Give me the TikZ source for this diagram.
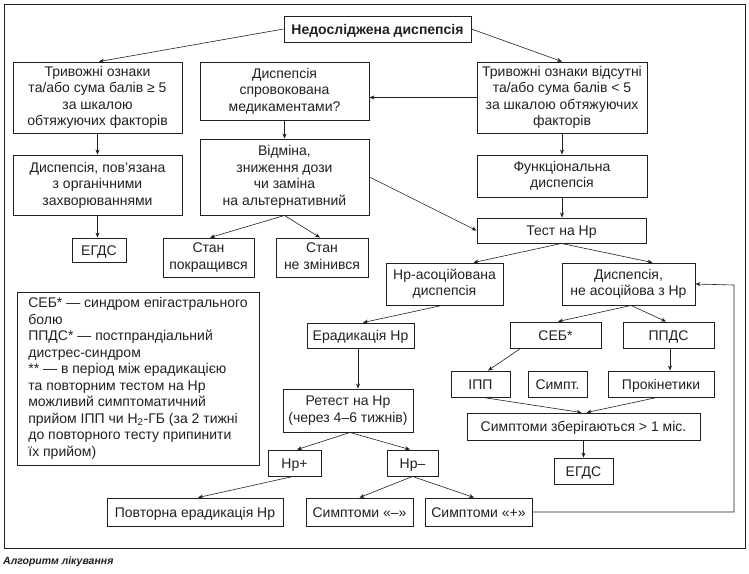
\documentclass[tikz,border=0pt]{standalone}
\usepackage{fontspec}
\setmainfont{Liberation Sans}
\usetikzlibrary{arrows.meta}
\definecolor{ink}{HTML}{231F20}
\begin{document}
\begin{tikzpicture}[x=1pt,y=-1pt,
  box/.style={draw=ink,line width=0.9pt,align=center,inner sep=0pt,text=ink,
    font=\fontsize{14}{16.5}\selectfont,
    execute at begin node={\rule{0pt}{13pt}},
    execute at end node={\rule[-3pt]{0pt}{3pt}}},
  arr/.style={draw=ink,line width=0.6pt,-{Stealth[length=5pt,width=4pt]}}]
\useasboundingbox (0,0) rectangle (749,573);
\draw[ink,line width=0.9pt] (4,4) rectangle (745,548);

\node[box,minimum width=187,minimum height=26,font=\fontsize{14}{16.5}\selectfont\bfseries] (n1) at (377.5,29) {Недосліджена диспепсія};
\node[box,minimum width=169,minimum height=71] (n2) at (97.5,97.5) {Тривожні ознаки\\та/або сума балів ≥ 5\\за шкалою\\обтяжуючих факторів};
\node[box,minimum width=169,minimum height=58] (n3) at (284.5,91) {Диспепсія\\спровокована\\медикаментами?};
\node[box,minimum width=170,minimum height=71] (n4) at (562,97.5) {Тривожні ознаки відсутні\\та/або сума балів < 5\\за шкалою обтяжуючих\\факторів};
\node[box,minimum width=169,minimum height=60] (n5) at (97.5,185) {Диспепсія, пов’язана\\з органічними\\захворюваннями};
\node[box,minimum width=169,minimum height=76] (n6) at (284.5,177) {Відміна,\\зниження дози\\чи заміна\\на альтернативний};
\node[box,minimum width=170,minimum height=42] (n7) at (562,176) {Функціональна\\диспепсія};
\node[box,minimum width=54,minimum height=24] (n8) at (99,250) {ЕГДС};
\node[box,minimum width=91,minimum height=39] (n9) at (208.5,257.5) {Стан\\покращився};
\node[box,minimum width=92,minimum height=39] (n10) at (322,257.5) {Стан\\не змінився};
\node[box,minimum width=242,minimum height=173,align=left] (n11) at (138,378.5) {СЕБ* — синдром епігастрального\\болю\\ППДС* — постпрандіальний\\дистрес-синдром\\** — в період між ерадикацією\\та повторним тестом на Hp\\можливий симптоматичний\\прийом ІПП чи H\textsubscript{2}-ГБ (за 2 тижні\\до повторного тесту припинити\\їх прийом)};
\node[box,minimum width=169,minimum height=25] (n12) at (561.5,230.5) {Тест на Hp};
\node[box,minimum width=117,minimum height=42] (n13) at (444.5,284) {Hp-асоційована\\диспепсія};
\node[box,minimum width=133,minimum height=42] (n14) at (628.5,284) {Диспепсія,\\не асоційова з Hp};
\node[box,minimum width=107,minimum height=25] (n15) at (360.5,335.5) {Ерадикація Hp};
\node[box,minimum width=91,minimum height=26] (n16) at (555.5,335) {СЕБ*};
\node[box,minimum width=91,minimum height=26] (n17) at (668.5,335) {ППДС};
\node[box,minimum width=59,minimum height=26] (n18) at (480.5,384) {ІПП};
\node[box,minimum width=59,minimum height=26] (n19) at (557.5,384) {Симпт.};
\node[box,minimum width=106,minimum height=26] (n20) at (661,384) {Прокінетики};
\node[box,minimum width=130,minimum height=43] (n21) at (348,410.5) {Ретест на Hp\\(через 4–6 тижнів)};
\node[box,minimum width=233,minimum height=27] (n22) at (583.5,426.5) {Симптоми зберігаються > 1 міс.};
\node[box,minimum width=59,minimum height=26] (n23) at (583.5,471) {ЕГДС};
\node[box,minimum width=53,minimum height=26] (n24) at (294.5,463) {Hp+};
\node[box,minimum width=51,minimum height=26] (n25) at (412.5,463) {Hp–};
\node[box,minimum width=176,minimum height=28] (n26) at (195,512) {Повторна ерадикація Hp};
\node[box,minimum width=107,minimum height=28] (n27) at (359.5,512) {Симптоми «–»};
\node[box,minimum width=107,minimum height=28] (n28) at (478.5,512) {Симптоми «+»};

\node[anchor=west,inner sep=0pt,text=ink,font=\fontsize{10.5}{12}\selectfont\bfseries\itshape] (cap) at (3,562) {Алгоритм лікування};

\draw[arr] (n1.west) -- ([xshift=1.5]n2.north);
\draw[arr] (n1.east) -- (n4.north);
\draw[arr] (n4.west) -- (n4.west -| n3.east);
\draw[arr] (n2.south) -- (n5.north);
\draw[arr] (n3.south) -- (n6.north);
\draw[arr] (n4.south) -- (n7.north);
\draw[arr] (n5.south) -- (n5.south |- n8.north);
\draw[arr] (n6.south) -- ([xshift=1.5]n9.north);
\draw[arr] (n6.south) -- ([xshift=-2]n10.north);
\draw[arr] (n6.east) -- (n12.west);
\draw[arr] (n7.south) -- (n7.south |- n12.north);
\draw[arr] (n12.south) -- ([xshift=29]n13.north);
\draw[arr] (n12.south) -- ([xshift=24]n14.north);
\draw[arr] ([xshift=-2.5]n13.south) -- ([xshift=2.5]n15.north);
\draw[arr] ([xshift=2.5]n14.south) -- ([xshift=2.5]n16.north);
\draw[arr] ([xshift=2.5]n14.south) -- ([xshift=-2.5]n17.north);
\draw[arr] ([xshift=-35]n16.south) -- ([xshift=7.5]n18.north);
\draw[arr] ([xshift=1.5]n17.south) -- ([xshift=1.5]n17.south |- n20.north);
\draw[arr] ([xshift=2.5]n18.south) -- ([xshift=-2]n22.north);
\draw[arr] ([xshift=-4]n20.south) -- ([xshift=3]n22.north);
\draw[arr] (n22.south) -- (n23.north);
\draw[arr] ([xshift=-2.5]n15.south) -- ([xshift=-2.5]n15.south |- n21.north);
\draw[arr] ([xshift=2]n21.south) -- ([xshift=2.5]n24.north);
\draw[arr] ([xshift=2]n21.south) -- ([xshift=-2.5]n25.north);
\draw[arr] ([xshift=-1.5]n24.south) -- ([xshift=3]n26.north);
\draw[arr] (n25.south) -- (n27.north);
\draw[arr] (n25.south) -- ([xshift=-4.5]n28.north);
\coordinate (loopx) at (734,285);
\draw[arr] (n28.east) -| (loopx) -- (n14.east);
\end{tikzpicture}
\end{document}
